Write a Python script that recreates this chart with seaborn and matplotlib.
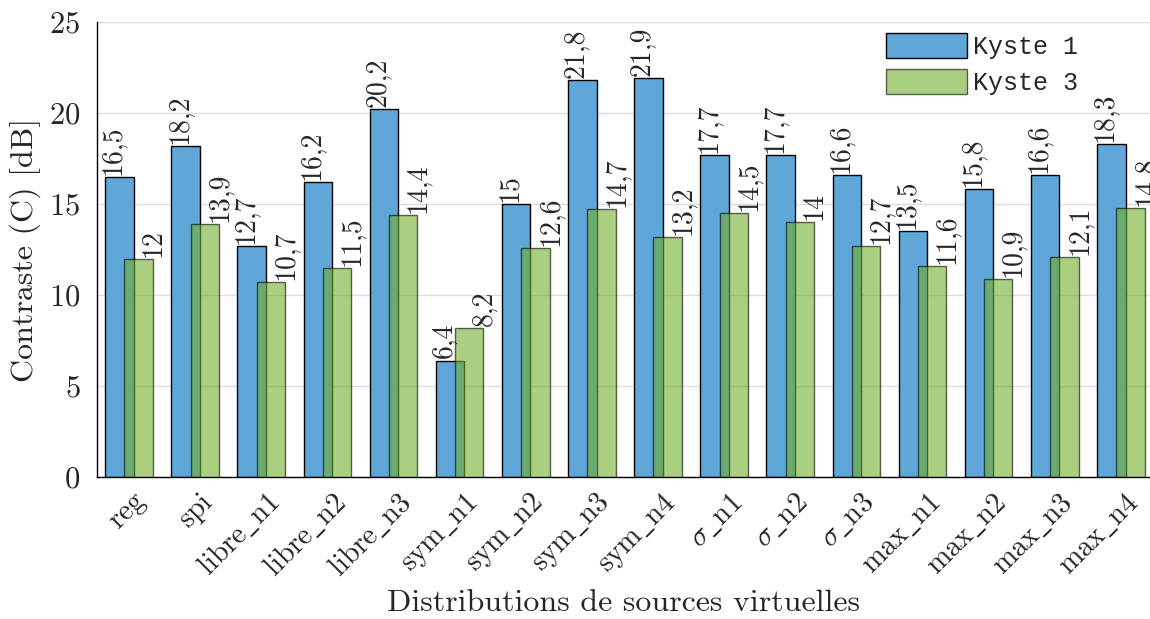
import numpy as np
import pandas as pd
import seaborn as sns
import matplotlib
matplotlib.use("Agg")
import matplotlib.pyplot as plt
from matplotlib.transforms import ScaledTranslation

# Distributions of virtual sources and measured contrast (dB) for two cysts
categories = [r"$\mathrm{reg}$", r"$\mathrm{spi}$", r"$\mathrm{libre\_n1}$",
              r"$\mathrm{libre\_n2}$", r"$\mathrm{libre\_n3}$", r"$\mathrm{sym\_n1}$",
              r"$\mathrm{sym\_n2}$", r"$\mathrm{sym\_n3}$", r"$\mathrm{sym\_n4}$",
              r"$\sigma\mathrm{\_n1}$", r"$\sigma\mathrm{\_n2}$", r"$\sigma\mathrm{\_n3}$",
              r"$\mathrm{max\_n1}$", r"$\mathrm{max\_n2}$", r"$\mathrm{max\_n3}$",
              r"$\mathrm{max\_n4}$"]
kyste1 = [16.5, 18.2, 12.7, 16.2, 20.2, 6.4, 15, 21.8, 21.9, 17.7, 17.7, 16.6,
          13.5, 15.8, 16.6, 18.3]
kyste3 = [12, 13.9, 10.7, 11.5, 14.4, 8.2, 12.6, 14.7, 13.2, 14.5, 14, 12.7,
          11.6, 10.9, 12.1, 14.8]
series_names = ["Kyste 1", "Kyste 3"]
y_ticks = [0, 5, 10, 15, 20, 25]

sns.set_theme(style="white")
plt.rcParams["font.family"] = ["cmr10", "DejaVu Serif"]
plt.rcParams["mathtext.fontset"] = "cm"
plt.rcParams["axes.formatter.use_mathtext"] = True

BLUE = "#5fa7d8"
GREEN = "#73af2d"
BAR_W = 0.43
OFF1, OFF3 = -0.145, 0.145

pos = np.arange(len(categories))
df1 = pd.DataFrame({"x": pos + OFF1, "y": kyste1})
df3 = pd.DataFrame({"x": pos + OFF3, "y": kyste3})

fig = plt.figure(figsize=(11.5, 6.19), dpi=100)
ax = fig.add_axes([97 / 1150, 142 / 619, 1053 / 1150, 455 / 619])

sns.barplot(data=df1, x="x", y="y", native_scale=True, width=BAR_W, color=BLUE,
            saturation=1, edgecolor="black", linewidth=1.0, label=series_names[0],
            errorbar=None, ax=ax, zorder=2)
sns.barplot(data=df3, x="x", y="y", native_scale=True, width=BAR_W, color=GREEN,
            saturation=1, edgecolor="black", linewidth=1.0, alpha=0.6,
            label=series_names[1], errorbar=None, ax=ax, zorder=3)

def fmt(v):
    return f"{v:g}".replace(".", ",")

for i, (a, b) in enumerate(zip(kyste1, kyste3)):
    ax.annotate(fmt(a), (i - 0.24, a), xytext=(0, 1.5), textcoords="offset points",
                rotation=90, ha="center", va="bottom", fontsize=20, zorder=5)
    ax.annotate(fmt(b), (i + 0.37, b), xytext=(0, 1.5), textcoords="offset points",
                rotation=90, ha="center", va="bottom", fontsize=20, zorder=5)

ax.set_xlim(-0.484, 15.44)
ax.set_ylim(0, 25)
ax.set_yticks(y_ticks)
ax.set_xticks(pos)
ax.tick_params(axis="y", labelsize=22, direction="in", length=3, pad=12)
ax.tick_params(axis="x", direction="in", length=3, pad=4)
ax.set_xticklabels(categories, rotation=45, ha="right", va="center",
                   rotation_mode="anchor", fontsize=21)
# nudge the slanted category labels so their ends sit under each tick
shift = ScaledTranslation(14 / 100, -16 / 100, fig.dpi_scale_trans)
for lbl in ax.get_xticklabels():
    lbl.set_transform(lbl.get_transform() + shift)

ax.yaxis.grid(True, color="#dddddd", linewidth=1.0, zorder=0)
ax.set_axisbelow(True)
for side in ("top", "right"):
    ax.spines[side].set_visible(False)
for side in ("left", "bottom"):
    ax.spines[side].set_color("black")
    ax.spines[side].set_linewidth(1.0)

ax.set_xlabel("Distributions de sources virtuelles", fontsize=23, labelpad=6)
ax.set_ylabel("Contraste (C) [dB]", fontsize=23, labelpad=6)

leg = ax.legend(loc="upper left", bbox_to_anchor=(886 / 1150, 1 - 33 / 619),
                bbox_transform=fig.transFigure, frameon=False, borderpad=0,
                borderaxespad=0, handlelength=3.24, handleheight=1.15,
                handletextpad=0.25, labelspacing=0.4,
                prop={"family": "Liberation Mono", "size": 18})

fig.savefig("out.png", dpi=100)
